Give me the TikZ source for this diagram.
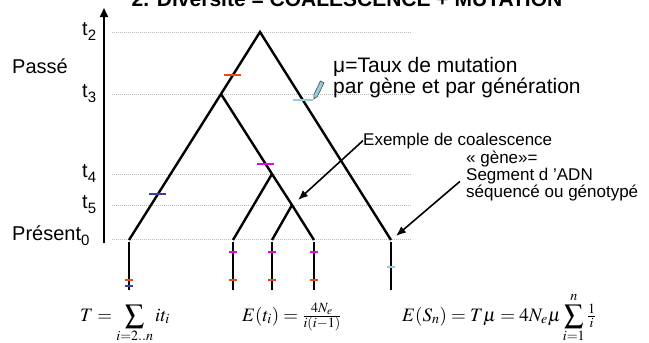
\documentclass[tikz,border=0pt]{standalone}
\usepackage{amsmath}
\usepackage{mathptmx}
\usepackage[no-math]{fontspec}
\setmainfont{Liberation Sans}
\usetikzlibrary{arrows.meta, calc}
\definecolor{MutRed}{RGB}{240, 70, 20}
\definecolor{MutPink}{RGB}{235, 0, 235}
\definecolor{MutBlue}{RGB}{60, 60, 170}
\definecolor{MutCyan}{RGB}{150, 205, 220}
\definecolor{GuideGray}{RGB}{185, 185, 185}
\newcommand{\px}[1]{\fontsize{#1}{#1}\selectfont}
\newcommand{\lowidx}[1]{\raisebox{-5pt}{\px{15}#1}}

\begin{document}
\begin{tikzpicture}[x=1pt, y=-1pt,
  every node/.style={inner sep=0pt, font=\px{20}},
  branch/.style={line width=2.4pt},
  stub/.style={line width=2.2pt},
  guide/.style={GuideGray, line width=0.6pt, dash pattern=on 1pt off 1pt},
  tick/.style={line width=2.4pt},
  pointer/.style={line width=1.6pt, -{Latex[length=10pt, width=8pt]}},
  formula/.style={anchor=base west, font=\px{19}}]
\useasboundingbox (0,0) rectangle (649,343);

% titre
\node[anchor=base, font=\bfseries\px{21}] (titre) at (347,6)
  {2. Diversité = COALESCENCE + MUTATION};

% axe du temps
\coordinate (bas) at (104,243);
\coordinate (haut) at (104,8);
\draw[line width=1.8pt, -{Triangle[length=9pt, width=8pt]}] (bas) -- (haut);

\foreach \y/\t in {32/2, 94/3, 174/4, 205/5} {
  \draw[guide] (112,\y) -- (412,\y);
  \node[anchor=base west] (t\t) at (82,\y+3) {t\lowidx{\t}};
}
\draw[guide] (112,239) -- (412,239);
\node[anchor=base west] (passe) at (12,73) {Passé};
\node[anchor=base west] (present) at (12,240) {Présent\lowidx{0}};

% arbre de coalescence
\coordinate (R) at (260,32);
\coordinate (A) at (221,94);
\coordinate (B) at (272,174);
\coordinate (C) at (292,205);
\foreach \n/\x in {1/129, 2/233, 3/272, 4/314, 5/391} {
  \coordinate (L\n) at (\x,240);
  \coordinate (S\n) at (\x,242);
  \coordinate (E\n) at (\x,290);
  \draw[stub] (S\n) -- (E\n);
}
\draw[branch] (L1) -- (A) -- (R) -- (L5);
\draw[branch] (A) -- (B) -- (C) -- (L4);
\draw[branch] (B) -- (L2);
\draw[branch] (C) -- (L3);

% mutations sur les branches
\draw[tick, MutRed] ($(R)!.694!(A)$) ++(-8.5,0) -- ++(17,0);
\draw[tick, MutCyan] ($(R)!.327!(L5)$) ++(-10,0) -- ++(20,0);
\draw[tick, MutPink] ($(A)!.875!(B)$) ++(-8.5,0) -- ++(17,0);
\draw[tick, MutBlue] ($(A)!.685!(L1)$) ++(-8.5,0) -- ++(17,0);

% mutations sur les genes actuels
\foreach \n in {2,3,4}
  \draw[tick, MutPink] ($(S\n)+(-4,10)$) -- ++(8,0);
\foreach \n in {1,2,3,4}
  \draw[tick, MutRed] ($(S\n)+(-4,38)$) -- ++(8,0);
\draw[tick, MutBlue] ($(S1)+(-4,44)$) -- ++(8,0);
\draw[tick, MutCyan] ($(S5)+(-4,25)$) -- ++(8,0);

% crayon
\draw[black!70, fill=MutCyan, line width=0.6pt]
  (314,99) -- (317.5,96.3) -- (324,82.8) -- (320.4,81) -- (313.9,94.5) -- cycle;

% textes
\node[anchor=north west, align=left, font=\px{21}] (taux) at (333,57)
  {\fontsize{21}{25}\selectfont μ=Taux de mutation\\par gène et par génération};
\node[anchor=base west, font=\px{17}] (coal) at (363,145) {Exemple de coalescence};
\node[anchor=north west, align=left, font=\px{17}] (gene) at (466,151)
  {\fontsize{17}{20.5}\selectfont « gène»=\\Segment d 'ADN\\séquencé ou génotypé};

\coordinate (cible1) at (298,200);
\coordinate (cible5) at (396,236);
\draw[pointer] (coal.west) -- (cible1);
\draw[pointer, shorten <=8pt] (gene.west) -- (cible5);

% formules
\node[formula] (f1) at (80,321) {$\displaystyle T = \sum_{i=2..n} i t_i$};
\node[formula] (f2) at (242,321) {$E(t_i) = \tfrac{4N_e}{i(i-1)}$};
\node[formula] (f3) at (402,321) {$\displaystyle E(S_n) = T\mu = 4N_e\mu\sum_{i=1}^{n}\tfrac{1}{i}$};
\end{tikzpicture}
\end{document}
